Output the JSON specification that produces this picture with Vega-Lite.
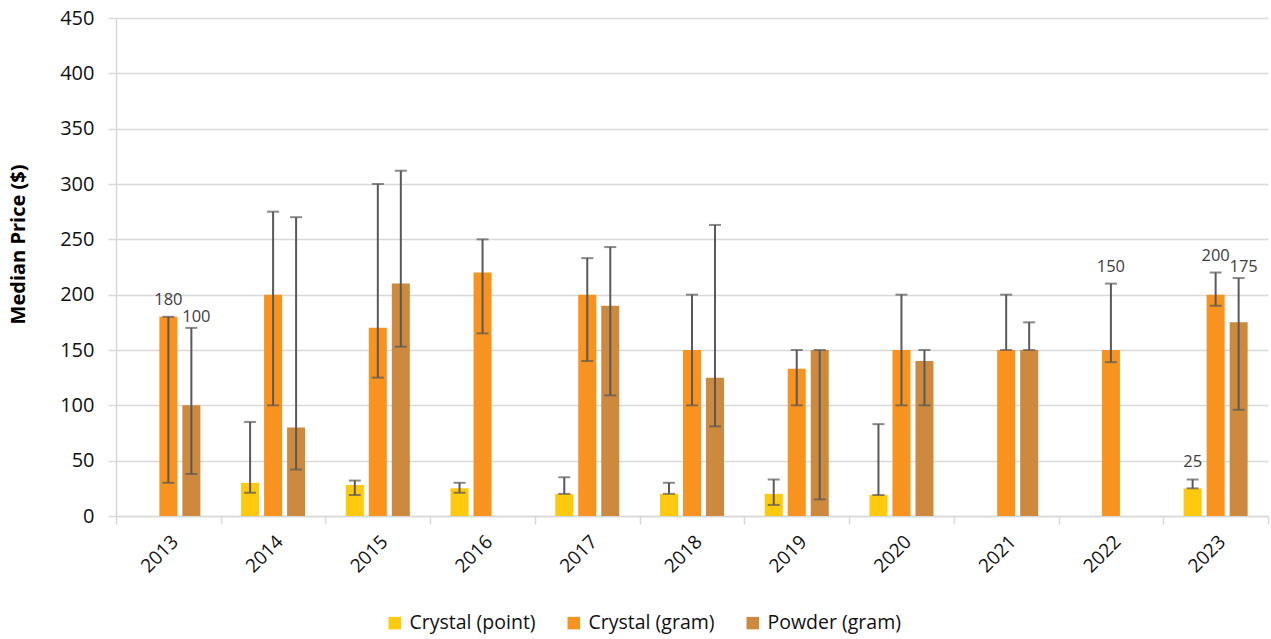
{
  "$schema": "https://vega.github.io/schema/vega-lite/v6.json",
  "width": 1152,
  "height": 498,
  "autosize": {"type": "none"},
  "padding": {"left": 116, "top": 18, "right": 3, "bottom": 123},
  "background": "white",
  "config": {
    "font": "Open Sans",
    "view": {"stroke": null},
    "axis": {"labelColor": "#111111", "titleColor": "#000000"}
  },
  "data": {
    "values": [
      {"year": "2013", "series": "Crystal (gram)", "value": 180, "low": 30, "high": 180, "label": "180"},
      {"year": "2013", "series": "Powder (gram)", "value": 100, "low": 38, "high": 170, "label": "100"},
      {"year": "2014", "series": "Crystal (point)", "value": 30, "low": 21, "high": 85, "label": null},
      {"year": "2014", "series": "Crystal (gram)", "value": 200, "low": 100, "high": 275, "label": null},
      {"year": "2014", "series": "Powder (gram)", "value": 80, "low": 42, "high": 270, "label": null},
      {"year": "2015", "series": "Crystal (point)", "value": 28, "low": 19, "high": 32, "label": null},
      {"year": "2015", "series": "Crystal (gram)", "value": 170, "low": 125, "high": 300, "label": null},
      {"year": "2015", "series": "Powder (gram)", "value": 210, "low": 153, "high": 312, "label": null},
      {"year": "2016", "series": "Crystal (point)", "value": 25, "low": 21, "high": 30, "label": null},
      {"year": "2016", "series": "Crystal (gram)", "value": 220, "low": 165, "high": 250, "label": null},
      {"year": "2017", "series": "Crystal (point)", "value": 20, "low": 20, "high": 35, "label": null},
      {"year": "2017", "series": "Crystal (gram)", "value": 200, "low": 140, "high": 233, "label": null},
      {"year": "2017", "series": "Powder (gram)", "value": 190, "low": 109, "high": 243, "label": null},
      {"year": "2018", "series": "Crystal (point)", "value": 20, "low": 20, "high": 30, "label": null},
      {"year": "2018", "series": "Crystal (gram)", "value": 150, "low": 100, "high": 200, "label": null},
      {"year": "2018", "series": "Powder (gram)", "value": 125, "low": 81, "high": 263, "label": null},
      {"year": "2019", "series": "Crystal (point)", "value": 20, "low": 10, "high": 33, "label": null},
      {"year": "2019", "series": "Crystal (gram)", "value": 133, "low": 100, "high": 150, "label": null},
      {"year": "2019", "series": "Powder (gram)", "value": 150, "low": 15, "high": 150, "label": null},
      {"year": "2020", "series": "Crystal (point)", "value": 19, "low": 19, "high": 83, "label": null},
      {"year": "2020", "series": "Crystal (gram)", "value": 150, "low": 100, "high": 200, "label": null},
      {"year": "2020", "series": "Powder (gram)", "value": 140, "low": 100, "high": 150, "label": null},
      {"year": "2021", "series": "Crystal (gram)", "value": 150, "low": 150, "high": 200, "label": null},
      {"year": "2021", "series": "Powder (gram)", "value": 150, "low": 150, "high": 175, "label": null},
      {"year": "2022", "series": "Crystal (gram)", "value": 150, "low": 139, "high": 210, "label": "150"},
      {"year": "2023", "series": "Crystal (point)", "value": 25, "low": 25, "high": 33, "label": "25"},
      {"year": "2023", "series": "Crystal (gram)", "value": 200, "low": 190, "high": 220, "label": "200"},
      {"year": "2023", "series": "Powder (gram)", "value": 175, "low": 96, "high": 215, "label": "175"}
    ]
  },
  "encoding": {
    "x": {
      "field": "year",
      "type": "nominal",
      "sort": ["2013","2014","2015","2016","2017","2018","2019","2020","2021","2022","2023"],
      "scale": {"domain": ["2013","2014","2015","2016","2017","2018","2019","2020","2021","2022","2023"], "paddingInner": 0, "paddingOuter": 0},
      "axis": {
        "title": null,
        "labelAngle": -45,
        "labelFontSize": 19,
        "labelPadding": 8,
        "domainColor": "#d9d9d9",
        "domainWidth": 1.5,
        "tickColor": "#d9d9d9",
        "tickWidth": 1.5,
        "tickSize": 8,
        "tickBand": "extent",
        "grid": false
      }
    },
    "xOffset": {
      "field": "series",
      "type": "nominal",
      "scale": {"domain": ["Crystal (point)", "Crystal (gram)", "Powder (gram)"], "paddingInner": 0.217, "paddingOuter": 0.885}
    }
  },
  "layer": [
    {
      "mark": {"type": "bar"},
      "encoding": {
        "y": {
          "field": "value",
          "type": "quantitative",
          "scale": {"domain": [0, 450], "nice": false},
          "axis": {
            "title": "Median Price ($)",
            "titleFontSize": 20,
            "titleFontWeight": "bold",
            "titleX": -98,
            "titleY": 226,
            "titleAngle": -90,
            "titleAlign": "center",
            "titleBaseline": "middle",
            "values": [0, 50, 100, 150, 200, 250, 300, 350, 400, 450],
            "labelFontSize": 20,
            "labelPadding": 14,
            "grid": true,
            "gridColor": "#d9d9d9",
            "gridWidth": 1.5,
            "domainColor": "#dcd6d6",
            "domainWidth": 1.5,
            "tickColor": "#d9d9d9",
            "tickWidth": 1.5,
            "tickSize": 8
          }
        },
        "color": {
          "field": "series",
          "type": "nominal",
          "scale": {"domain": ["Crystal (point)", "Crystal (gram)", "Powder (gram)"], "range": ["#FFC90E", "#F7931E", "#CD8A3E"]},
          "legend": {
            "title": null,
            "orient": "none",
            "legendX": 269,
            "legendY": 595,
            "direction": "horizontal",
            "symbolType": "square",
            "symbolSize": 156,
            "symbolStrokeWidth": 0,
            "labelFontSize": 19.5,
            "labelColor": "#111111",
            "labelOffset": 5,
            "columnPadding": 28
          }
        }
      }
    },
    {
      "mark": {"type": "rule", "color": "#595959", "strokeWidth": 2},
      "encoding": {
        "y": {"field": "low", "type": "quantitative"},
        "y2": {"field": "high"}
      }
    },
    {
      "mark": {"type": "tick", "color": "#595959", "thickness": 2, "size": 12, "orient": "horizontal"},
      "encoding": {
        "y": {"field": "low", "type": "quantitative"}
      }
    },
    {
      "mark": {"type": "tick", "color": "#595959", "thickness": 2, "size": 12, "orient": "horizontal"},
      "encoding": {
        "y": {"field": "high", "type": "quantitative"}
      }
    },
    {
      "transform": [{"filter": "datum.label != null && datum.series != 'Powder (gram)'"}],
      "mark": {"type": "text", "fontSize": 16.5, "color": "#404040", "baseline": "middle", "dy": -17},
      "encoding": {
        "y": {"field": "high", "type": "quantitative"},
        "text": {"field": "label", "type": "nominal"}
      }
    },
    {
      "transform": [{"filter": "datum.label != null && datum.series == 'Powder (gram)'"}],
      "mark": {"type": "text", "fontSize": 16.5, "color": "#404040", "baseline": "middle", "dx": 5, "dy": -11},
      "encoding": {
        "y": {"field": "high", "type": "quantitative"},
        "text": {"field": "label", "type": "nominal"}
      }
    }
  ]
}
